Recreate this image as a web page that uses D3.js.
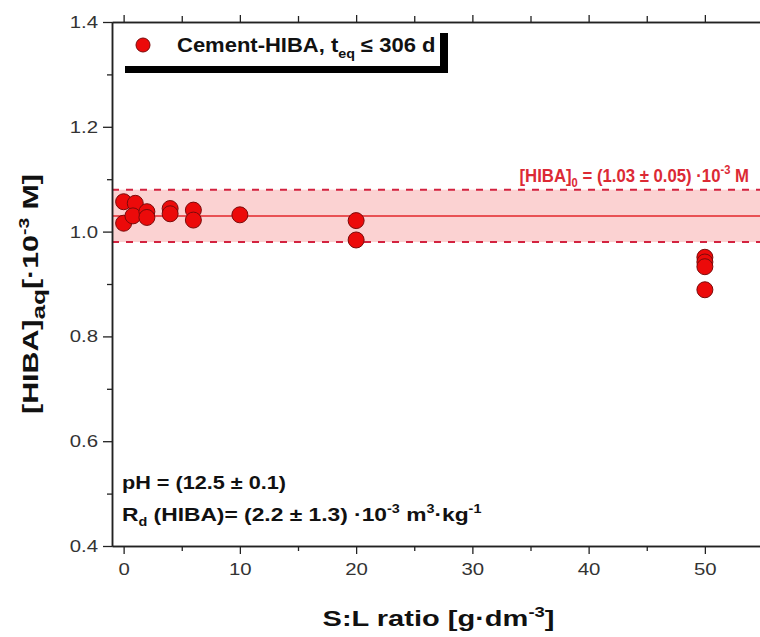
<!DOCTYPE html>
<html>
<head>
<meta charset="utf-8">
<script src="https://cdn.jsdelivr.net/npm/d3@7"></script>
<style>
  body { margin: 0; background: #fff; }
  text { font-family: Arial, "Liberation Sans", sans-serif; }
</style>
</head>
<body>
<script>
// data
var slRatio = [0, 0, 1, 0.8, 2, 2, 4, 4, 6, 6, 10, 20, 20, 50, 50, 50, 50];
var hibaAq  = [1.057, 1.016, 1.054, 1.03, 1.038, 1.027, 1.044, 1.034, 1.041, 1.022, 1.032, 1.021, 0.984, 0.951, 0.942, 0.933, 0.889];
var hiba0 = 1.03, hiba0Err = 0.05;
var xTicks = [0, 10, 20, 30, 40, 50];
var xMinor = [5, 15, 25, 35, 45];
var yTicks = [0.4, 0.6, 0.8, 1.0, 1.2, 1.4];
var yMinor = [0.5, 0.7, 0.9, 1.1, 1.3];

var width = 760, height = 637;
var margin = {top: 22, right: -3, bottom: 91, left: 112};
var w = width - margin.left - margin.right;
var h = height - margin.top - margin.bottom;

var svg = d3.select("body").append("svg")
  .attr("width", width).attr("height", height);

var g = svg.append("g")
  .attr("transform", "translate(" + margin.left + "," + margin.top + ")");

var x = d3.scaleLinear().domain([-1, 55]).range([0, w]);
var y = d3.scaleLinear().domain([0.4, 1.4]).range([h, 0]);

// text placed at a point, stretched sideways like the original
function label(parent, x0, y0, anchor, size, sx, rot) {
  var tr = "translate(" + x0 + "," + y0 + ")" + (rot ? " rotate(" + rot + ")" : "") + " scale(" + sx + ",1)";
  return parent.append("text").attr("transform", tr)
    .attr("text-anchor", anchor).attr("font-size", size + "px")
    .attr("font-weight", "bold").attr("fill", "#111");
}

// band + reference lines
g.append("rect")
  .attr("x", 0).attr("width", w)
  .attr("y", y(hiba0 + hiba0Err))
  .attr("height", y(hiba0 - hiba0Err) - y(hiba0 + hiba0Err))
  .attr("fill", "#fbd2d2");
g.append("line")
  .attr("x1", 0).attr("x2", w)
  .attr("y1", y(hiba0)).attr("y2", y(hiba0))
  .attr("stroke", "#e3262a").attr("stroke-width", 1.5);
[hiba0 + hiba0Err, hiba0 - hiba0Err].forEach(function(v) {
  g.append("line")
    .attr("x1", 0).attr("x2", w)
    .attr("y1", y(v)).attr("y2", y(v))
    .attr("stroke", "#d3223f").attr("stroke-width", 2)
    .attr("stroke-dasharray", "7,7");
});

// axes
var axisColor = "#222";
var fmt = d3.format(".1f");

g.append("g").attr("transform", "translate(0," + h + ")")
  .call(d3.axisBottom(x).tickValues(xTicks).tickSize(8).tickSizeOuter(0).tickPadding(9));
g.append("g").attr("transform", "translate(0," + h + ")")
  .call(d3.axisBottom(x).tickValues(xMinor).tickSize(5).tickFormat("").tickSizeOuter(0));

g.append("g")
  .call(d3.axisLeft(y).tickValues(yTicks).tickFormat(fmt).tickSize(9).tickSizeOuter(0).tickPadding(5));
g.append("g")
  .call(d3.axisLeft(y).tickValues(yMinor).tickSize(5).tickFormat("").tickSizeOuter(0));

g.append("g")
  .call(d3.axisTop(x).tickValues(xTicks).tickSize(7).tickFormat("").tickSizeOuter(0));
g.append("g")
  .call(d3.axisTop(x).tickValues(xMinor).tickSize(6).tickFormat("").tickSizeOuter(0));

g.selectAll(".domain").attr("stroke", axisColor).attr("stroke-width", 1.5);
g.selectAll(".tick line").attr("stroke", axisColor).attr("stroke-width", 1.3);
g.selectAll(".tick text").attr("font-size", "17px").attr("fill", "#333")
  .style("font-family", "Arial, 'Liberation Sans', sans-serif")
  .each(function() {
    var t = d3.select(this);
    var tx = +t.attr("x") || 0, ty = +t.attr("y") || 0;
    t.attr("x", null).attr("y", null)
      .attr("transform", "translate(" + tx + "," + ty + ") scale(1.2,1)");
  });

// points
g.selectAll("circle.pt").data(slRatio).enter()
  .append("circle").attr("class", "pt")
  .attr("cx", function(d) { return x(d); })
  .attr("cy", function(d, i) { return y(hibaAq[i]); })
  .attr("r", 8)
  .attr("fill", "#ec0a0a")
  .attr("stroke", "#7a0a0a").attr("stroke-width", 1);

// legend
g.append("rect").attr("x", 13).attr("y", 11).attr("width", 323).attr("height", 40).attr("fill", "#000");
g.append("rect").attr("x", 6).attr("y", 5).attr("width", 322).attr("height", 39).attr("fill", "#fff");
g.append("circle").attr("cx", 31).attr("cy", 23).attr("r", 7)
  .attr("fill", "#ec0a0a").attr("stroke", "#7a0a0a").attr("stroke-width", 1);
var lt = label(g, 65, 30, "start", 20, 1.1, 0);
lt.append("tspan").text("Cement-HIBA, t");
lt.append("tspan").attr("font-size", "13px").attr("dy", 6).text("eq");
lt.append("tspan").attr("dy", -6).text(" \u2264 306 d");

// annotation
var ann = label(g, w - 14, y(hiba0 + hiba0Err) - 8, "end", 18, 0.93, 0).attr("fill", "#dc2a35");
ann.append("tspan").text("[HIBA]");
ann.append("tspan").attr("font-size", "12px").attr("dy", 5).text("0");
ann.append("tspan").attr("dy", -5).text(" = (1.03 \u00b1 0.05) \u00b710");
ann.append("tspan").attr("font-size", "12px").attr("dy", -8).text("-3");
ann.append("tspan").attr("dy", 8).text(" M");

label(g, 10, y(0.508), "start", 19, 1.14, 0).text("pH = (12.5 \u00b1 0.1)");
var t2 = label(g, 10, y(0.448), "start", 19, 1.2, 0);
t2.append("tspan").text("R");
t2.append("tspan").attr("font-size", "12px").attr("dy", 5).text("d");
t2.append("tspan").attr("dy", -5).text(" (HIBA)= (2.2 \u00b1 1.3) \u00b710");
t2.append("tspan").attr("font-size", "12px").attr("dy", -8).text("-3");
t2.append("tspan").attr("dy", 8).text(" m");
t2.append("tspan").attr("font-size", "12px").attr("dy", -8).text("3");
t2.append("tspan").attr("dy", 8).text("\u00b7kg");
t2.append("tspan").attr("font-size", "12px").attr("dy", -8).text("-1");

// axis titles
var xl = label(svg, margin.left + w / 2 + 1, 626, "middle", 22, 1.32, 0);
xl.append("tspan").text("S:L ratio [g\u00b7dm");
xl.append("tspan").attr("font-size", "14px").attr("dy", -9).text("-3");
xl.append("tspan").attr("dy", 9).text("]");

var yl = label(svg, 38, margin.top + h / 2 + 10, "middle", 22, 1.38, -90);
yl.append("tspan").text("[HIBA]");
yl.append("tspan").attr("font-size", "19px").attr("dy", 7).text("aq");
yl.append("tspan").attr("dy", -7).text("[\u00b710");
yl.append("tspan").attr("font-size", "14px").attr("dy", -9).text("-3");
yl.append("tspan").attr("dy", 9).text(" M]");
</script>
</body>
</html>
